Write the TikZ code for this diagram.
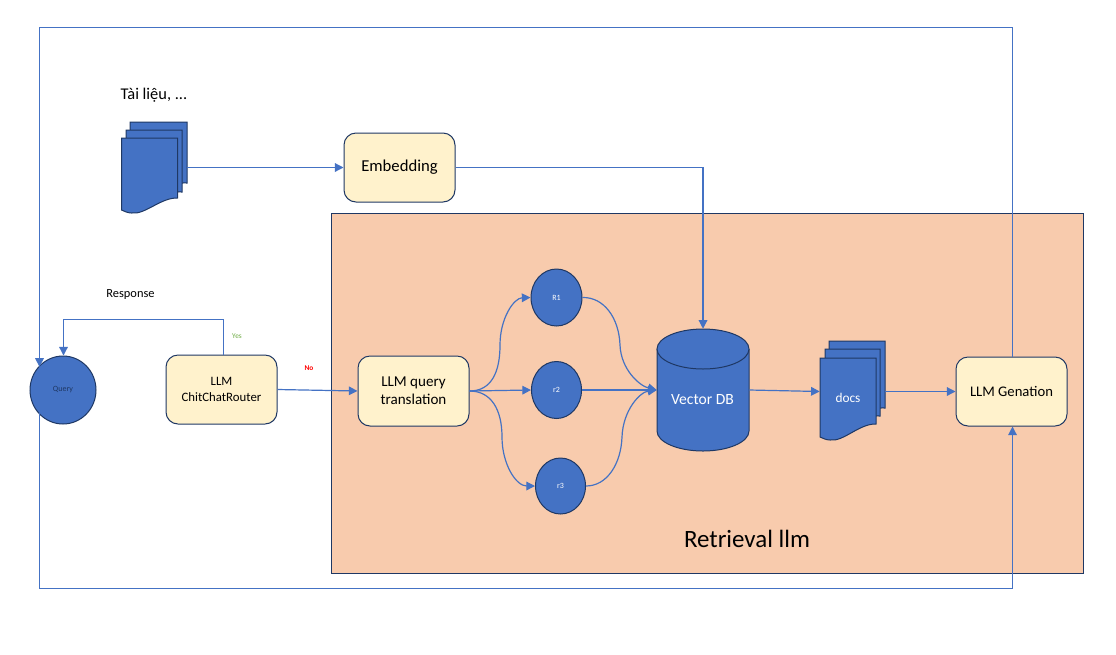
\documentclass[tikz,border=0pt]{standalone}
\usepackage{fontspec}
\setmainfont{Carlito}
\usetikzlibrary{arrows.meta,shapes.geometric}
\definecolor{conn}{HTML}{4472C4}
\definecolor{navy}{HTML}{1F3864}
\definecolor{cream}{HTML}{FFF2CC}
\definecolor{peach}{HTML}{F8CBAD}
\newcommand{\docsheet}[5]{% left right top leftbottom rightbottom
  \draw[shapeline] (#1,#3) -- (#2,#3) -- (#2,#5)
    .. controls ({#2-0.3*(#2-#1)},{#5-0.5}) and ({#1+0.42*(#2-#1)},{#4+5}) .. ({#1+0.18*(#2-#1)},{#4+3})
    .. controls ({#1+0.1*(#2-#1)},{#4+3}) and ({#1+0.05*(#2-#1)},{#4+1}) .. (#1,#4) -- cycle;}
\tikzset{
  x=0.75pt,y=-0.75pt,
  shapeline/.style={draw=navy,fill=conn,line width=0.75pt},
  llmbox/.style={draw=navy,fill=cream,line width=0.75pt,rounded corners=9pt,align=center,inner sep=0pt,font=\fontsize{11.3}{13.5}\selectfont},
  roundnode/.style={ellipse,draw=navy,fill=conn,line width=0.75pt,inner sep=0pt,font=\fontsize{6}{7}\selectfont,text=white},
  ghost/.style={inner sep=0pt,minimum height=0pt},
  link/.style={draw=conn,line width=0.9pt},
  arrowlink/.style={link,-{Triangle[width=6.5pt,length=6.5pt]}},
  label/.style={inner sep=0pt,font=\fontsize{11}{13}\selectfont},
}
\begin{document}
\begin{tikzpicture}
\useasboundingbox (0,0) rectangle (1116,654);
\fill[white] (0,0) rectangle (1116,654);

% Retrieval panel
\node[draw=navy,fill=peach,line width=0.75pt,inner sep=0pt,minimum width=564pt,minimum height=270pt] (panel) at (707,393) {};
\node[inner sep=0pt,font=\fontsize{18.7}{22}\selectfont] (panellabel) at (747,539) {Retrieval llm};

% Document stacks
\docsheet{130}{187}{122}{183}{183}
\docsheet{126}{182}{130}{192}{192}
\docsheet{121.5}{177.5}{138}{210}{198}
\node[ghost,minimum width=49.5pt,minimum height=68pt] (source) at (154,167.5) {};
\docsheet{829}{885}{341}{408}{408}
\docsheet{825}{880}{349}{416}{416}
\docsheet{820}{876}{358}{437}{424}
\node[ghost,minimum width=48.75pt,minimum height=60pt] (docs) at (852.5,391.5) {};
\node[inner sep=0pt,text=white,font=\fontsize{10}{12}\selectfont] (docstext) at (848,398) {docs};

% Vector DB
\draw[shapeline] (657,349) -- (657,431) arc[start angle=180,end angle=360,x radius=46,y radius=-20] -- (749,349);
\draw[shapeline] (703,349) ellipse[x radius=46,y radius=20];
\node[ghost,minimum width=69pt,minimum height=91.5pt] (db) at (703,390) {};
\node[inner sep=0pt,text=white,font=\fontsize{11.7}{14}\selectfont] (dbtext) at (702.5,399.5) {Vector DB};

% Boxes
\node[llmbox,minimum width=83.25pt,minimum height=51.75pt,font=\fontsize{12.5}{15}\selectfont] (embed) at (399.5,167.5) {\raisebox{-1.5pt}{Embedding}};
\node[llmbox,minimum width=83.25pt,minimum height=51.75pt,font=\fontsize{9.6}{11.4}\selectfont] (router) at (221.5,389.5) {LLM\\ChitChatRouter};
\node[llmbox,minimum width=83.25pt,minimum height=52.5pt] (trans) at (413.5,391) {LLM query\\translation};
\node[llmbox,minimum width=83.25pt,minimum height=51.75pt,font=\fontsize{11}{13}\selectfont] (gen) at (1011.5,391.5) {\raisebox{-0.5pt}{LLM Genation}};

% Circles
\node[roundnode,minimum width=49.5pt,minimum height=51pt,text=navy] (query) at (63,390) {Query};
\node[roundnode,minimum width=38.25pt,minimum height=42.75pt] (r1) at (556.5,297.5) {R1};
\node[roundnode,minimum width=37.5pt,minimum height=42.75pt] (r2) at (556.5,390) {r2};
\node[roundnode,minimum width=37.5pt,minimum height=42pt] (r3) at (560.5,486) {r3};

% Text labels
\node[label,font=\fontsize{12.3}{14}\selectfont] (doctitle) at (154,95) {Tài liệu, ...};
\node[label,font=\fontsize{9.3}{11}\selectfont] (resp) at (130.5,295) {Response};
\node[label,text={rgb,255:red,112;green,173;blue,71},font=\fontsize{5.5}{7}\selectfont] (yes) at (237,336) {Yes};
\node[label,text=red,font=\bfseries\fontsize{5.5}{7}\selectfont] (no) at (309,368) {No};

% Outer frame
\coordinate (tr) at (1012.5,27.5);
\coordinate (tl) at (39.5,27.5);
\coordinate (bl) at (39.5,588.5);
\coordinate (br) at (1012.5,588.5);
\draw[arrowlink] (tr |- gen.north) -- (tr) -- (tl) -- (tl |- query.137);
\draw[arrowlink] (bl |- query.223) -- (bl) -- (br) -- (br |- gen.south);

% Connectors
\coordinate (yesbend) at (223.5,319.5);
\coordinate (yesend) at (63.5,319.5);
\draw[arrowlink] (yesbend |- router.north) -- (yesbend) -- (yesend) -- (yesend |- query.north);
\draw[arrowlink] (source.east) -- (embed.west);
\draw[arrowlink] (embed.east) -| (db.north);
\draw[arrowlink] (router.east) -- (trans.west);
\draw[arrowlink] (trans.east) .. controls +(22,0) and (500,372) .. (500,345) .. controls (500,318) and (514,298) .. (r1.west);
\draw[arrowlink] (trans.east) -- (r2.west);
\draw[arrowlink] (trans.east) .. controls +(22,0) and (502,410) .. (502,437) .. controls (502,464) and (516,486) .. (r3.west);
\draw[arrowlink] (r1.east) .. controls (604,297) and (619,318) .. (620,345) .. controls (621,370) and (640,386) .. (db.west);
\draw[arrowlink] (r2.east) -- (db.west);
\draw[arrowlink] (r3.east) .. controls (607,486) and (621,464) .. (622,437) .. controls (623,410) and (640,392) .. (db.west);
\draw[arrowlink] (db.east) -- (docs.west);
\draw[arrowlink] (docs.east) -- (gen.west);
\end{tikzpicture}
\end{document}
